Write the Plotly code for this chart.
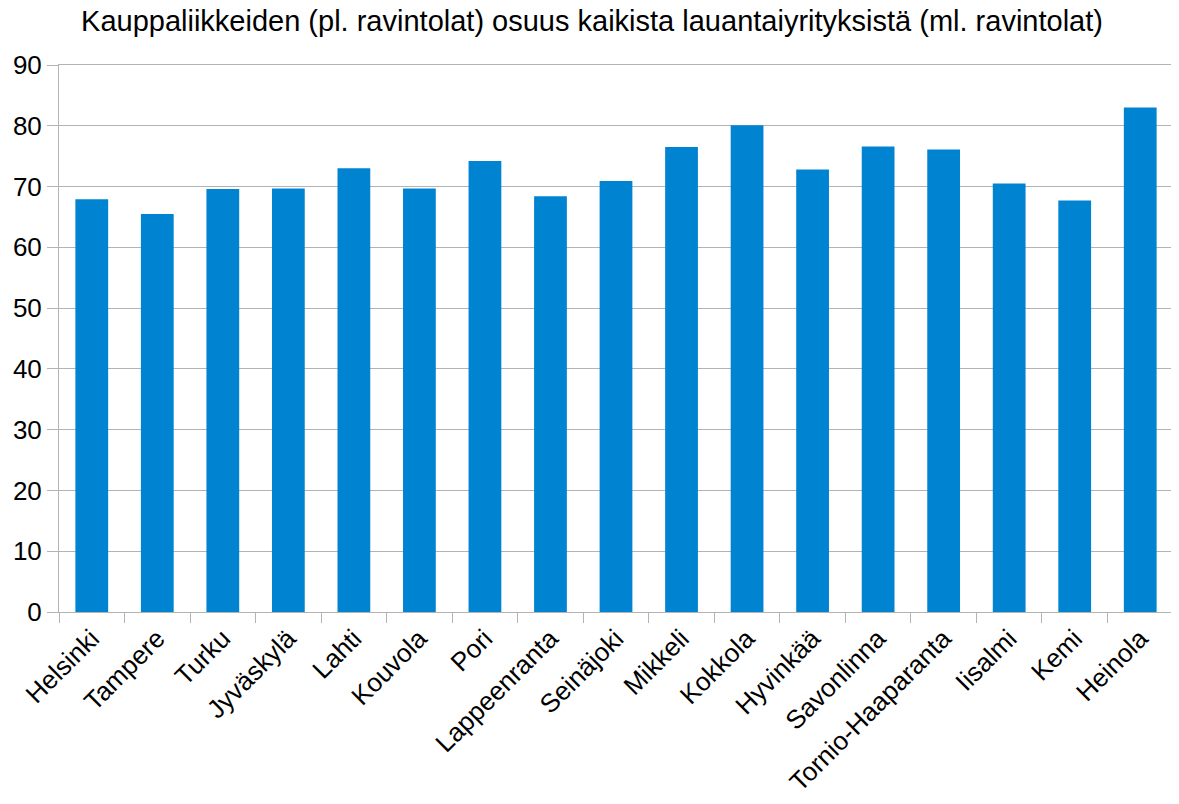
import plotly.graph_objects as go

categories = ["Helsinki", "Tampere", "Turku", "Jyväskylä", "Lahti", "Kouvola", "Pori",
              "Lappeenranta", "Seinäjoki", "Mikkeli", "Kokkola", "Hyvinkää", "Savonlinna",
              "Tornio-Haaparanta", "Iisalmi", "Kemi", "Heinola"]
values = [67.9, 65.5, 69.6, 69.7, 73.0, 69.7, 74.2, 68.4, 70.9, 76.5, 80.1, 72.8,
          76.6, 76.1, 70.5, 67.7, 83.0]
y_ticks = [0, 10, 20, 30, 40, 50, 60, 70, 80, 90]

title = "Kauppaliikkeiden (pl. ravintolat) osuus kaikista lauantaiyrityksistä (ml. ravintolat)"

# page body has an 8px default margin; figure is sized to fit the window
W, H = 1171, 796

fig = go.Figure(go.Bar(x=categories, y=values, marker_color="#0084d1",
                       marker_line_width=0, width=0.5))

fig.update_layout(
    width=W, height=H,
    paper_bgcolor="white", plot_bgcolor="white",
    margin=dict(l=51, r=6, t=57, b=192, autoexpand=False),
    font=dict(family="Liberation Sans, Arial, sans-serif", size=26, color="black"),
    title=dict(text=title, x=584 / W, xanchor="center", y=1 - 13 / H, yanchor="middle",
               font=dict(size=29, color="black")),
    showlegend=False,
)
fig.update_yaxes(range=[0, 90], tickvals=y_ticks, showgrid=True, gridcolor="#b3b3b3",
                 gridwidth=1, showline=True, linecolor="#b3b3b3", mirror=True,
                 ticks="outside", ticklen=11, tickcolor="#b3b3b3", zeroline=False,
                 tickfont=dict(size=26), automargin=False)
fig.update_xaxes(showline=True, linecolor="#b3b3b3", mirror=True, ticks="outside",
                 tickson="boundaries", ticklen=10, tickcolor="#b3b3b3", tickangle=-45,
                 tickfont=dict(size=26), showgrid=False, automargin=False)

fig.write_html("out.html")
